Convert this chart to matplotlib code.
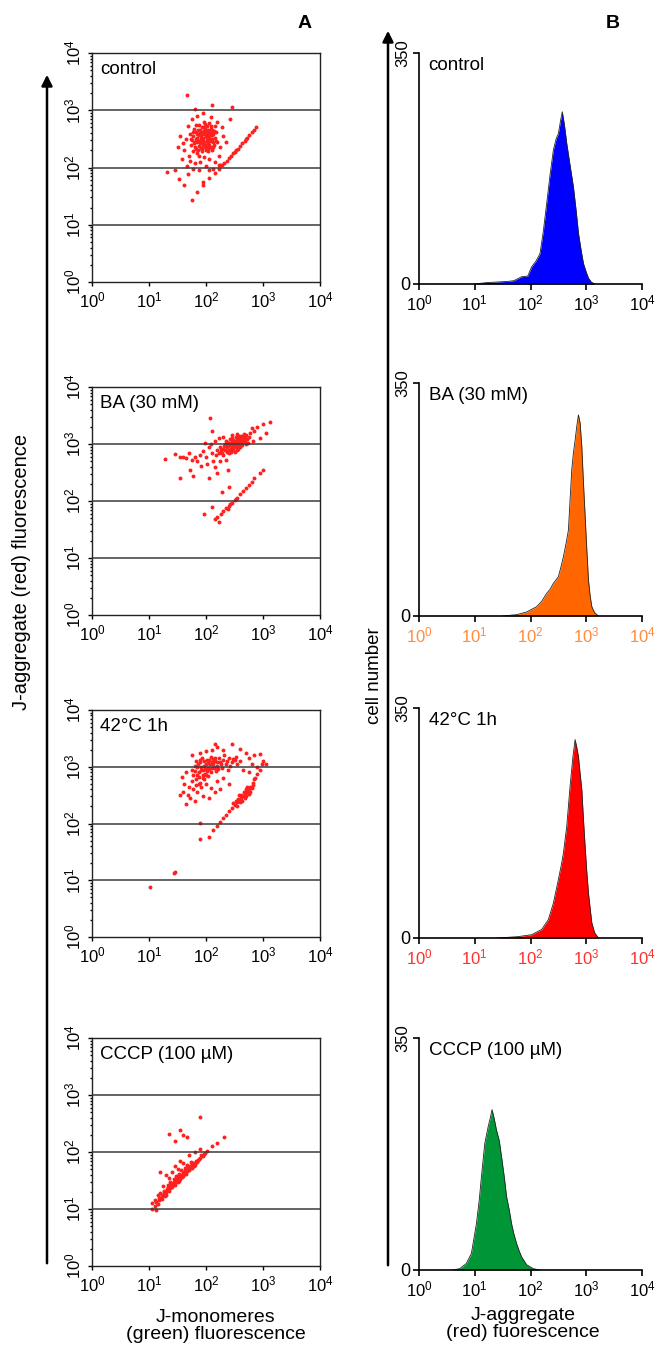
import matplotlib
matplotlib.use('Agg')
import matplotlib.pyplot as plt
import numpy as np
from matplotlib.ticker import LogLocator, NullFormatter, FixedLocator
from matplotlib.patches import FancyArrowPatch

plt.rcParams['font.family'] = ['Liberation Sans', 'DejaVu Sans']
plt.rcParams['mathtext.fontset'] = 'custom'
plt.rcParams['mathtext.rm'] = 'Liberation Sans'
plt.rcParams['mathtext.default'] = 'rm'

# ---- data (log10 units) ----
names = ['control', 'BA (30 mM)', '42°C 1h', 'CCCP (100 µM)']

# A: scatter (log10 green, log10 red)
ctrl_pts = [
    (1.80, 2.45), (1.85, 2.52), (1.90, 2.60), (1.95, 2.48), (2.00, 2.55), (2.05, 2.62), (2.10, 2.50),
    (1.88, 2.38), (1.93, 2.70), (1.98, 2.35), (2.03, 2.42), (2.08, 2.68), (2.13, 2.58), (1.83, 2.62),
    (1.78, 2.55), (1.92, 2.44), (1.97, 2.64), (2.02, 2.72), (2.07, 2.36), (2.12, 2.44), (1.86, 2.30),
    (1.91, 2.52), (1.96, 2.58), (2.01, 2.46), (2.06, 2.54), (2.11, 2.66), (1.81, 2.36), (1.76, 2.48),
    (1.89, 2.66), (1.94, 2.40), (1.99, 2.76), (2.04, 2.32), (2.09, 2.60), (2.14, 2.40), (1.84, 2.44),
    (1.79, 2.68), (1.87, 2.56), (2.00, 2.62), (2.05, 2.48), (1.95, 2.52), (1.90, 2.47), (2.02, 2.58),
    (1.85, 2.25), (1.93, 2.28), (2.16, 2.52), (2.18, 2.62), (1.74, 2.40), (1.72, 2.58), (2.00, 2.30),
    (2.10, 2.30), (1.82, 2.74), (1.96, 2.80), (2.06, 2.78), (2.15, 2.72), (1.88, 2.20), (1.97, 2.18),
    (1.78, 2.28), (2.20, 2.45),
    (1.82, 2.50), (1.87, 2.47), (1.92, 2.56), (1.97, 2.45), (2.02, 2.52), (2.07, 2.58), (1.84, 2.58),
    (1.89, 2.42), (1.94, 2.62), (1.99, 2.40), (2.04, 2.66), (2.09, 2.46), (1.86, 2.66), (1.91, 2.34),
    (1.96, 2.70), (2.01, 2.36), (2.06, 2.40), (2.11, 2.56), (1.79, 2.42), (1.77, 2.62), (1.88, 2.74),
    (2.14, 2.64), (2.03, 2.28), (1.93, 2.33), (1.98, 2.68), (2.08, 2.72), (1.83, 2.32), (2.17, 2.46),
    (1.73, 2.50), (2.12, 2.36),
    (1.65, 2.50), (1.62, 2.30), (1.70, 2.20), (1.68, 2.72), (1.75, 2.85), (1.85, 2.90), (1.95, 2.95),
    (2.08, 2.88), (2.20, 2.80), (2.28, 2.70), (2.30, 2.55), (2.25, 2.35), (2.22, 2.20), (2.15, 2.10),
    (2.05, 2.15), (1.90, 2.10), (1.80, 2.08), (1.72, 2.12), (1.60, 2.42), (1.55, 2.55), (1.50, 2.35),
    (1.58, 2.15), (1.66, 2.02), (1.78, 1.98), (1.88, 1.95), (2.00, 2.02), (2.12, 1.98), (2.22, 2.05),
    (2.35, 2.45), (2.42, 2.85), (2.45, 3.05), (1.66, 3.27), (2.10, 3.10), (1.80, 3.02), (1.45, 1.95),
    (1.52, 1.80), (1.68, 1.88), (1.75, 1.43), (1.95, 1.75), (2.05, 1.95), (1.31, 1.93), (1.62, 1.70),
    (1.84, 1.58), (1.95, 1.70), (2.05, 1.82), (2.15, 1.90), (2.22, 1.98), (2.28, 2.04), (2.32, 2.08),
    (2.36, 2.12), (2.40, 2.16), (2.44, 2.20), (2.48, 2.25), (2.52, 2.30), (2.56, 2.33), (2.60, 2.37),
    (2.64, 2.42), (2.68, 2.46), (2.72, 2.52), (2.76, 2.56), (2.80, 2.62), (2.84, 2.66), (2.88, 2.70),
    (2.25, 2.05), (2.50, 2.27), (2.70, 2.50),
]

ba_pts = [
    (2.30, 2.92), (2.35, 2.98), (2.40, 3.02), (2.45, 2.95), (2.50, 3.05), (2.55, 3.00), (2.60, 3.08),
    (2.65, 3.12), (2.38, 2.88), (2.42, 3.08), (2.48, 2.90), (2.52, 2.98), (2.58, 3.14), (2.62, 3.02),
    (2.68, 3.05), (2.33, 3.00), (2.44, 3.00), (2.56, 2.94), (2.46, 3.10), (2.36, 2.94), (2.54, 3.10),
    (2.64, 2.98), (2.70, 3.15), (2.72, 3.08), (2.28, 2.85), (2.25, 2.95), (2.40, 2.84), (2.50, 2.86),
    (2.60, 2.95), (2.66, 3.18), (2.53, 3.02), (2.47, 2.98), (2.43, 2.92), (2.57, 3.05), (2.63, 3.10),
    (2.34, 2.90), (2.39, 2.97), (2.49, 3.03), (2.59, 3.00), (2.75, 3.12), (2.20, 2.90), (2.18, 2.80),
    (2.30, 2.80), (2.77, 3.20), (2.45, 3.15), (2.55, 3.18),
    (2.32, 2.96), (2.37, 3.03), (2.41, 2.90), (2.46, 3.05), (2.51, 2.94), (2.56, 3.08), (2.61, 3.04),
    (2.66, 3.08), (2.44, 2.86), (2.54, 2.90), (2.58, 2.98), (2.48, 3.07), (2.62, 3.14), (2.68, 3.12),
    (2.36, 2.86), (2.27, 2.90), (2.52, 3.12), (2.42, 2.98), (2.73, 3.02), (2.22, 2.84), (2.70, 3.00),
    (2.64, 3.05), (2.35, 3.06), (2.50, 3.00), (2.57, 2.92),
    (2.10, 2.85), (2.05, 2.95), (2.00, 2.78), (1.95, 2.88), (1.90, 2.80), (1.85, 2.70), (1.80, 2.78),
    (1.75, 2.72), (1.70, 2.85), (1.65, 2.75), (1.60, 2.78), (1.55, 2.77), (1.45, 2.82), (1.28, 2.74),
    (1.92, 2.62), (2.02, 2.65), (2.12, 2.70), (2.15, 2.60), (2.25, 2.70), (2.35, 2.72), (2.08, 3.00),
    (2.15, 3.05), (1.98, 3.02), (2.22, 3.10), (2.30, 3.12), (1.72, 2.55), (1.55, 2.40), (1.78, 2.43),
    (2.05, 2.40), (2.38, 2.55), (2.20, 2.50), (2.85, 3.22), (2.90, 3.30), (3.00, 3.35), (3.12, 3.38),
    (2.80, 3.28), (2.95, 3.10), (3.05, 3.20), (2.82, 3.05), (2.07, 3.45), (2.10, 3.22),
    (2.15, 1.68), (2.20, 1.72), (2.26, 1.78), (2.30, 1.83), (2.35, 1.88), (2.40, 1.92), (2.45, 1.97),
    (2.50, 2.02), (2.55, 2.06), (2.60, 2.12), (2.65, 2.17), (2.70, 2.22), (2.75, 2.28), (2.80, 2.34),
    (2.84, 2.40), (2.95, 2.50), (3.00, 2.54), (2.38, 1.86), (2.42, 1.95), (2.52, 2.04), (1.96, 1.78),
    (2.22, 1.64), (2.10, 1.90), (2.28, 2.15), (2.40, 2.25),
]

heat_pts = [
    (1.85, 3.00), (1.90, 3.08), (1.95, 2.95), (2.00, 3.05), (2.05, 3.12), (2.10, 2.98), (2.15, 3.10),
    (2.20, 3.02), (1.88, 2.90), (1.93, 3.15), (1.98, 2.88), (2.03, 2.98), (2.08, 3.18), (2.13, 3.04),
    (2.18, 2.92), (2.23, 3.15), (1.82, 3.10), (1.80, 2.92), (1.92, 3.00), (1.97, 3.10), (2.02, 2.92),
    (2.07, 3.05), (2.12, 3.14), (2.17, 3.00), (1.87, 2.82), (1.94, 2.80), (2.00, 2.85), (1.78, 2.85),
    (1.83, 2.78), (2.25, 3.08), (2.30, 3.12), (2.35, 3.05), (2.40, 3.15), (2.45, 3.08), (2.50, 3.12),
    (2.55, 3.05), (2.60, 3.10), (2.32, 3.20), (2.42, 3.02), (2.52, 3.18), (2.28, 2.98), (2.38, 2.95),
    (1.86, 3.04), (1.91, 2.94), (1.96, 3.02), (2.01, 3.12), (2.06, 2.96), (2.11, 3.08), (2.16, 3.16),
    (2.21, 2.96), (1.89, 3.12), (1.94, 2.86), (1.99, 2.96), (2.04, 3.06), (2.09, 2.90), (2.14, 2.98),
    (1.84, 2.86), (1.81, 3.02), (2.19, 3.08), (1.97, 2.78), (2.03, 2.84), (1.76, 2.95), (2.27, 3.04),
    (2.37, 3.10), (2.47, 3.14), (1.88, 2.70), (1.82, 2.68),
    (1.75, 2.75), (1.70, 2.65), (1.78, 2.60), (1.85, 2.55), (1.92, 2.65), (1.68, 2.50), (1.72, 2.45),
    (1.80, 2.40), (1.62, 2.70), (1.58, 2.82), (1.65, 2.90), (1.60, 2.55), (1.90, 2.72), (2.00, 2.70),
    (2.08, 2.62), (2.15, 2.55), (2.05, 2.45), (1.95, 2.48), (1.55, 2.50), (1.65, 2.35), (2.20, 2.75),
    (2.30, 2.80), (2.40, 2.70), (2.25, 2.60),
    (1.90, 3.25), (2.00, 3.28), (2.10, 3.30), (2.20, 3.35), (2.30, 3.30), (2.45, 3.40), (2.60, 3.32),
    (2.70, 3.25), (2.75, 3.15), (2.85, 3.20), (2.95, 3.22), (3.00, 3.10), (3.05, 3.05), (2.90, 3.00),
    (2.65, 2.95), (2.75, 2.90), (2.80, 3.05), (1.75, 3.20), (2.15, 3.40),
    (2.13, 1.88), (2.20, 1.95), (2.25, 2.02), (2.30, 2.10), (2.35, 2.15), (2.40, 2.22), (2.45, 2.28),
    (2.50, 2.33), (2.55, 2.38), (2.58, 2.42), (2.62, 2.45), (2.65, 2.48), (2.68, 2.52), (2.72, 2.55),
    (2.75, 2.60), (2.78, 2.65), (2.82, 2.72), (2.86, 2.80), (2.90, 2.88), (2.94, 2.95), (2.98, 3.05),
    (2.52, 2.40), (2.60, 2.38), (2.70, 2.48), (2.66, 2.56), (2.76, 2.52), (2.80, 2.62), (2.55, 2.30),
    (2.48, 2.36), (2.58, 2.50), (2.72, 2.64), (2.84, 2.78), (2.62, 2.50), (2.68, 2.45), (2.74, 2.58),
    (2.78, 2.56), (2.64, 2.40), (2.70, 2.60), (2.56, 2.44), (2.82, 2.68),
    (2.06, 1.76), (1.90, 1.72), (1.90, 2.01), (1.02, 0.88), (1.43, 1.13), (1.46, 1.15),
]

cccp_pts = [
    (1.05, 1.00), (1.10, 1.05), (1.12, 1.12), (1.15, 1.08), (1.18, 1.15), (1.20, 1.20), (1.22, 1.18),
    (1.25, 1.25), (1.28, 1.22), (1.30, 1.30), (1.32, 1.35), (1.35, 1.32), (1.38, 1.40), (1.40, 1.38),
    (1.42, 1.45), (1.45, 1.42), (1.48, 1.50), (1.50, 1.48), (1.52, 1.55), (1.55, 1.53), (1.58, 1.60),
    (1.60, 1.58), (1.62, 1.65), (1.65, 1.62), (1.68, 1.70), (1.70, 1.68), (1.72, 1.75), (1.75, 1.72),
    (1.78, 1.80), (1.80, 1.78), (1.83, 1.85), (1.86, 1.86), (1.90, 1.90), (1.94, 1.93), (1.98, 1.98),
    (2.02, 2.01), (1.27, 1.32), (1.33, 1.42), (1.37, 1.48), (1.43, 1.52), (1.47, 1.58), (1.53, 1.62),
    (1.57, 1.68), (1.63, 1.72), (1.67, 1.78), (1.73, 1.82), (1.30, 1.25), (1.36, 1.36), (1.44, 1.47),
    (1.52, 1.50), (1.58, 1.56), (1.66, 1.66), (1.74, 1.76), (1.82, 1.82), (1.88, 1.88),
    (1.34, 1.38), (1.41, 1.42), (1.46, 1.46), (1.51, 1.58), (1.56, 1.58), (1.61, 1.62), (1.64, 1.68),
    (1.69, 1.72), (1.76, 1.78), (1.84, 1.82), (1.39, 1.44), (1.49, 1.54), (1.59, 1.64), (1.71, 1.70),
    (1.79, 1.76), (1.26, 1.28), (1.23, 1.22), (1.17, 1.20), (1.92, 1.94), (1.96, 1.96),
    (1.20, 1.28), (1.25, 1.40), (1.15, 1.25), (1.35, 1.55), (1.40, 1.65), (1.45, 1.75), (1.50, 1.70),
    (1.30, 1.60), (1.20, 1.65), (1.55, 1.85), (1.60, 1.80), (1.70, 1.95), (1.80, 2.00), (1.90, 2.05),
    (2.10, 2.10), (2.20, 2.15), (2.31, 2.26), (1.90, 2.62), (1.55, 2.38), (1.35, 2.31), (1.67, 2.26),
    (1.60, 2.30), (1.45, 2.20), (1.10, 1.15), (1.05, 1.10), (1.12, 0.98),
]

# B: histograms (log10 red fluorescence, cell counts)
ctrl_hx = [1.0, 1.2, 1.4, 1.6, 1.7, 1.84, 1.95, 2.02, 2.10, 2.17, 2.23, 2.29, 2.35, 2.41, 2.46,
           2.50, 2.54, 2.57, 2.61, 2.65, 2.70, 2.77, 2.82, 2.86, 2.91, 2.95, 3.00, 3.04, 3.09, 3.15]
ctrl_n = [0, 2, 3, 4, 5, 11, 12, 26, 35, 46, 80, 122, 165, 203, 220,
          228, 248, 261, 240, 213, 185, 147, 110, 77, 50, 31, 18, 9, 3, 0]

ba_hx = [1.5, 1.75, 1.93, 2.11, 2.2, 2.29, 2.35, 2.41, 2.5, 2.55, 2.59, 2.64, 2.68, 2.71, 2.74,
         2.77, 2.80, 2.83, 2.86, 2.89, 2.92, 2.95, 2.98, 3.01, 3.04, 3.07, 3.10, 3.15, 3.22]
ba_n = [0, 2, 6, 14, 22, 34, 40, 49, 59, 75, 89, 110, 129, 175, 220,
        245, 264, 285, 302, 290, 255, 200, 150, 100, 54, 30, 14, 5, 0]

heat_hx = [1.4, 1.77, 2.02, 2.2, 2.32, 2.41, 2.5, 2.55, 2.59, 2.65, 2.71, 2.76, 2.80, 2.83, 2.86,
           2.89, 2.92, 2.95, 2.98, 3.01, 3.04, 3.07, 3.10, 3.15, 3.22]
heat_n = [0, 2, 5, 13, 28, 53, 89, 110, 129, 170, 231, 275, 302, 290, 276,
          250, 226, 180, 139, 100, 68, 45, 23, 8, 0]

cccp_hx = [0.6, 0.73, 0.85, 0.94, 1.03, 1.08, 1.12, 1.18, 1.24, 1.28, 1.31, 1.35, 1.39, 1.44,
           1.48, 1.53, 1.57, 1.62, 1.66, 1.70, 1.75, 1.80, 1.84, 1.93, 2.05, 2.17]
cccp_n = [0, 2, 10, 25, 70, 105, 141, 191, 216, 230, 242, 228, 211, 195,
          171, 140, 111, 90, 70, 55, 40, 28, 20, 8, 2, 0]

hist_colors = ['#0000ff', '#ff6600', '#ff0000', '#009638']
tick_colors = ['black', '#ff8c40', '#ff3030', 'black']

W, H = 655, 1348
fig = plt.figure(figsize=(W / 100, H / 100), dpi=100)


def px_box(left, top, right, bottom):
    return [left / W, 1 - bottom / H, (right - left) / W, (bottom - top) / H]


decades = [1, 10, 100, 1000, 10000]
dec_labels = ['$10^{%d}$' % i for i in range(5)]


def scatter_panel(box, pts, name):
    ax = fig.add_axes(px_box(*box))
    gx = [10 ** p[0] for p in pts]
    ry = [10 ** p[1] for p in pts]
    ax.scatter(gx, ry, s=8, c='#ff2020', linewidths=0, zorder=2)
    ax.set_xscale('log')
    ax.set_yscale('log')
    ax.set_xlim(1, 1e4)
    ax.set_ylim(1, 1e4)
    for v in decades[1:4]:
        ax.axhline(v, color='#3a3a3a', lw=1.1, zorder=3)
    for a in (ax.xaxis, ax.yaxis):
        a.set_major_locator(FixedLocator(decades))
        a.set_minor_locator(LogLocator(base=10, subs=np.arange(2, 10)))
        a.set_minor_formatter(NullFormatter())
    ax.set_xticklabels(dec_labels)
    ax.set_yticklabels(dec_labels, rotation=90, va='center')
    ax.tick_params(which='major', direction='out', length=3, width=1, labelsize=12, pad=3)
    ax.tick_params(which='minor', direction='out', length=1.5, width=1)
    for s in ax.spines.values():
        s.set_linewidth(1.0)
        s.set_color('#222222')
    ax.text(0.035, 0.965, name, transform=ax.transAxes, va='top', ha='left', fontsize=13.5)
    return ax


def hist_panel(box, hx, n, color, tcolor, name):
    ax = fig.add_axes(px_box(*box))
    x = [10 ** v for v in hx]
    ax.fill_between(x, n, 0, color=color, lw=0)
    ax.plot(x, n, color='#222222', lw=0.6)
    ax.set_xscale('log')
    ax.set_xlim(1, 1e4)
    ax.set_ylim(0, 350)
    ax.spines['top'].set_visible(False)
    ax.spines['right'].set_visible(False)
    ax.spines['left'].set_linewidth(1.2)
    ax.spines['bottom'].set_linewidth(1.2)
    ax.xaxis.set_major_locator(FixedLocator(decades))
    ax.xaxis.set_minor_locator(LogLocator(base=10, subs=np.arange(2, 10)))
    ax.xaxis.set_minor_formatter(NullFormatter())
    ax.set_xticklabels(dec_labels, color=tcolor)
    ax.set_yticks([0, 350])
    ax.set_yticklabels(['0', '350'])
    ax.get_yticklabels()[1].set_rotation(90)
    ax.get_yticklabels()[1].set_va('center')
    ax.get_yticklabels()[1].set_fontsize(12)
    ax.get_yticklabels()[0].set_fontsize(13)
    ax.tick_params(axis='x', which='major', direction='out', length=4, width=1.2, labelsize=12, pad=3)
    ax.tick_params(axis='x', which='minor', direction='out', length=2.5, width=1)
    ax.tick_params(axis='y', direction='out', length=4, width=1.2, pad=2)
    ax.annotate(name, xy=(0, 1), xycoords='axes fraction', xytext=(7, -9),
                textcoords='offset points', va='center', ha='left', fontsize=13.5)
    return ax


a_boxes = [(92, 53, 320, 282), (92, 387, 320, 615), (92, 710, 320, 937), (92, 1038, 320, 1266)]
b_boxes = [(419, 53, 642, 284), (419, 383, 642, 616), (419, 708, 642, 938), (419, 1038, 642, 1270)]
all_pts = [ctrl_pts, ba_pts, heat_pts, cccp_pts]
all_hx = [ctrl_hx, ba_hx, heat_hx, cccp_hx]
all_n = [ctrl_n, ba_n, heat_n, cccp_n]

for i in range(4):
    scatter_panel(a_boxes[i], all_pts[i], names[i])
    hist_panel(b_boxes[i], all_hx[i], all_n[i], hist_colors[i], tick_colors[i], names[i])

# big axis arrows
fig.add_artist(FancyArrowPatch((47 / W, 1 - 1266 / H), (47 / W, 1 - 72 / H), transform=fig.transFigure,
                               arrowstyle='-|>', mutation_scale=16, lw=1.8, color='black'))
fig.add_artist(FancyArrowPatch((388 / W, 1 - 1268 / H), (388 / W, 1 - 28 / H), transform=fig.transFigure,
                               arrowstyle='-|>', mutation_scale=16, lw=1.8, color='black'))

fig.text(22 / W, 1 - 572 / H, 'J-aggregate (red) fluorescence', rotation=90,
         ha='center', va='center', fontsize=14.5)
fig.text(375 / W, 1 - 676 / H, 'cell number', rotation=90, ha='center', va='center', fontsize=13.5)
fig.text(216 / W, 1 - 1326 / H, 'J-monomeres\n(green) fluorescence', ha='center', va='center',
         fontsize=14, linespacing=1.05)
fig.text(523 / W, 1 - 1324 / H, 'J-aggregate\n(red) fuorescence', ha='center', va='center',
         fontsize=14, linespacing=1.05)

fig.text(305 / W, 1 - 23 / H, 'A', ha='center', va='center', fontsize=14, fontweight='bold')
fig.text(613 / W, 1 - 23 / H, 'B', ha='center', va='center', fontsize=14, fontweight='bold')

fig.savefig('out.png', dpi=100)
